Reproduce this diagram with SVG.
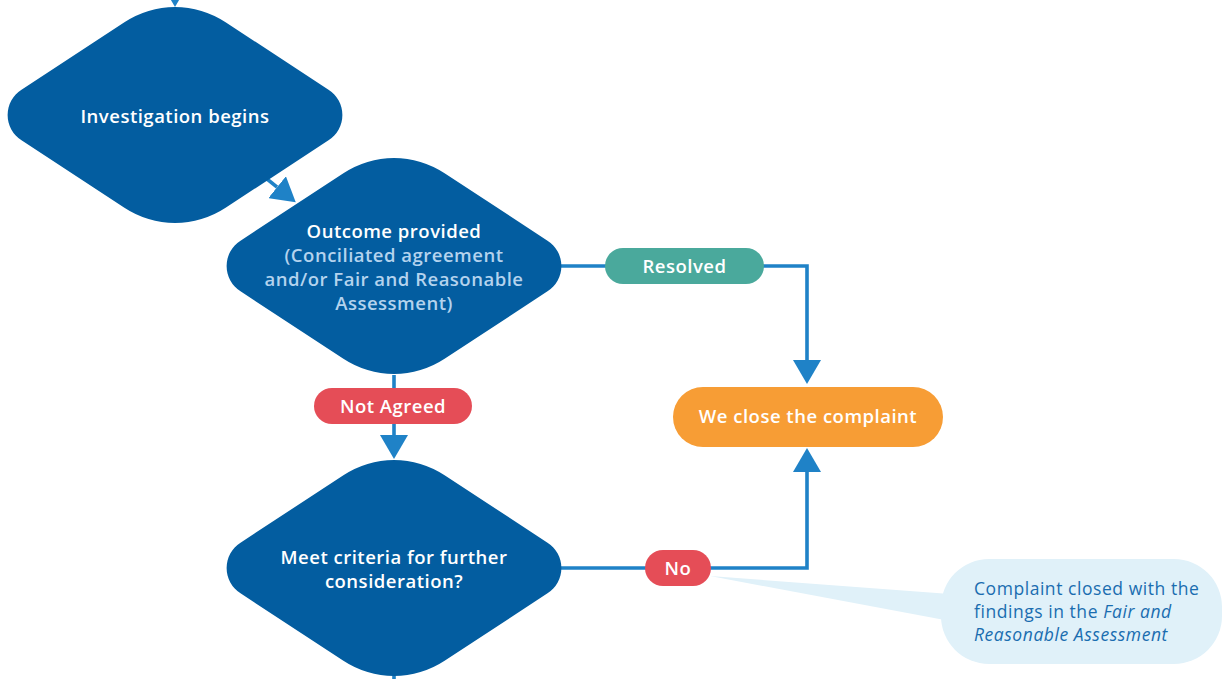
<svg xmlns="http://www.w3.org/2000/svg" width="1224" height="679" viewBox="0 0 1224 679">
<style>
.dia{fill:#035DA0}
.con{fill:none;stroke:#1F82C7;stroke-width:3.6}
.t{font-family:"Open Sans","Liberation Sans",sans-serif;font-weight:600;font-size:18.5px;letter-spacing:0.5px;fill:#FFFFFF;text-anchor:middle}
.lt{fill:#B4D3EE}
.note{font-family:"Open Sans","Liberation Sans",sans-serif;font-size:17.5px;letter-spacing:0.55px;fill:#1A6DB0}
</style>
<defs>
<path id="dshape" d="M-153.5,-25.3 L-50.6,-92.8 A92,92 0 0 1 50.6,-92.8 L153.5,-25.3 A30,30 0 0 1 153.5,25.3 L50.6,92.8 A92,92 0 0 1 -50.6,92.8 L-153.5,25.3 A30,30 0 0 1 -153.5,-25.3 Z"/>
<marker id="ah" viewBox="0 0 24 28" refX="0" refY="14" markerWidth="24" markerHeight="28" markerUnits="userSpaceOnUse" orient="auto">
<path d="M0,0 L24,14 L0,28 Z" fill="#1F82C7"/>
</marker>
</defs>
<rect width="1224" height="679" fill="#FFFFFF"/>
<g id="connectors">
<path class="con" d="M175,-40 V-17" marker-end="url(#ah)"/>
<path class="con" d="M262,175 L277.1,187.2" marker-end="url(#ah)"/>
<path class="con" d="M561,266 H807 V360" marker-end="url(#ah)"/>
<path class="con" d="M394,375 V435" marker-end="url(#ah)"/>
<path class="con" d="M561,568 H807 V472" marker-end="url(#ah)"/>
<path class="con" d="M394,670 V700"/>
</g>
<g id="callout">
<polygon points="710,576 950,594 950,621" fill="#E0F1F9"/>
<rect x="941" y="559" width="281" height="105" rx="48" fill="#E0F1F9"/>
<text class="note" x="974" y="595">Complaint closed with the</text>
<text class="note" x="974" y="618">findings in the <tspan font-style="italic">Fair and</tspan></text>
<text class="note" x="974" y="641" font-style="italic">Reasonable Assessment</text>
</g>
<g id="investigation">
<use href="#dshape" class="dia" transform="translate(175,115)"/>
<text class="t" x="175" y="123">Investigation begins</text>
</g>
<g id="outcome">
<use href="#dshape" class="dia" transform="translate(394,266)"/>
<text class="t" x="394" y="238">Outcome provided</text>
<text class="t lt" x="394" y="262">(Conciliated agreement</text>
<text class="t lt" x="394" y="286">and/or Fair and Reasonable</text>
<text class="t lt" x="394" y="310">Assessment)</text>
</g>
<g id="criteria">
<use href="#dshape" class="dia" transform="translate(394,568)"/>
<text class="t" x="394" y="564">Meet criteria for further</text>
<text class="t" x="394" y="588">consideration?</text>
</g>
<g id="resolved">
<rect x="605" y="248" width="159" height="36" rx="18" fill="#4AA99C"/>
<text class="t" x="684.5" y="273">Resolved</text>
</g>
<g id="notagreed">
<rect x="314" y="388" width="158" height="36" rx="18" fill="#E54D57"/>
<text class="t" x="393" y="413">Not Agreed</text>
</g>
<g id="no">
<rect x="645" y="550" width="66" height="36" rx="18" fill="#E54D57"/>
<text class="t" x="678" y="575">No</text>
</g>
<g id="close">
<rect x="673" y="387" width="270" height="60" rx="30" fill="#F79D35"/>
<text class="t" x="808" y="423">We close the complaint</text>
</g>
</svg>
